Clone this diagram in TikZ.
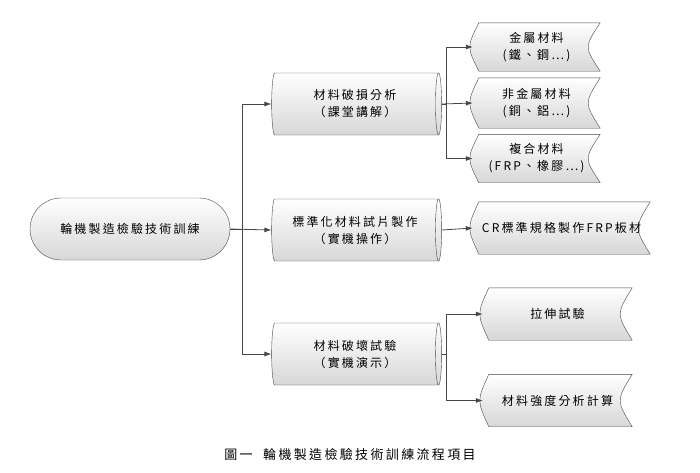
\documentclass[tikz,border=0pt]{standalone}
\usepackage{fontspec}
\setmainfont{Noto Sans CJK TC}[LetterSpace=18]
\usetikzlibrary{arrows.meta,backgrounds,shapes.geometric,calc}
\definecolor{edge-grey}{RGB}{70,70,70}
\definecolor{shade-grey}{RGB}{215,215,215}

\begin{document}
\begin{tikzpicture}[x=1pt,y=-1pt,
        every node/.style={font=\fontsize{12}{17}\selectfont,align=center,inner sep=0pt},
        start/.style={draw=edge-grey,rounded corners=31pt,minimum width=200pt,minimum height=62pt,
            top color=white,bottom color=shade-grey},
        cyl/.style={shape=cylinder,shape border rotate=0,aspect=0.22,draw=edge-grey,
            minimum width=62pt,minimum height=170pt,top color=white,bottom color=shade-grey},
        store/.style={minimum height=#1},
        arr/.style={draw=edge-grey,thick,-{Latex[length=7pt,width=5pt]}}
    ]
    \useasboundingbox (0,0) rectangle (700,472);
    % start
    \node[start] (train) at (130,229) {輪機製造檢驗技術訓練};
    % middle column
    \node[cyl] (anal) at (355,104) {材料破損分析\\（課堂講解）};
    \node[cyl] (std)  at (355,230) {標準化材料試片製作\\（實機操作）};
    \node[cyl] (test) at (355,354) {材料破壞試驗\\（實機演示）};
    % right column
    \node[store=48pt,minimum width=127pt] (metal)    at (536.5,47)    {金屬材料\\(鐵、鋼…)};
    \node[store=50pt,minimum width=127pt] (nonmetal) at (536.5,103)   {非金屬材料\\(銅、鋁…)};
    \node[store=48pt,minimum width=127pt] (comp)     at (536.5,158.5) {複合材料\\(FRP、橡膠…)};
    \node[store=52pt,minimum width=177pt] (cr)       at (561.5,228)   {CR標準規格製作FRP板材};
    \node[store=52pt,minimum width=149pt] (tensile)  at (557.5,314)   {拉伸試驗};
    \node[store=52pt,minimum width=149pt] (strength) at (557.5,400.5) {材料強度分析計算};
    \begin{scope}[on background layer]
        \foreach \n in {metal,nonmetal,comp,cr,tensile,strength}
            \draw[edge-grey,top color=white,bottom color=shade-grey]
                ([xshift=6pt]\n.north west) .. controls ([xshift=-6pt]\n.west) .. ([xshift=6pt]\n.south west)
                -- (\n.south east) .. controls ([xshift=-16pt]\n.east) .. (\n.north east) -- cycle;
    \end{scope}
    % connectors
    \draw[arr] (train.east) -- (std.west);
    \draw[arr] (train.east) -- ++(12,0) |- (anal.west);
    \draw[arr] (train.east) -- ++(12,0) |- (test.west);
    \draw[arr] (anal.east) -- ++(5,0) |- (metal.west);
    \draw[arr] (anal.east) -- (nonmetal.west);
    \draw[arr] (anal.east) -- ++(5,0) |- (comp.west);
    \draw[arr] (std.east) -- (cr.west);
    \draw[arr] (test.east) -- ++(5,0) |- (tensile.west);
    \draw[arr] (test.east) -- ++(5,0) |- (strength.west);
    % caption
    \node[font=\fontsize{13}{15}\selectfont] (caption) at (350,455) {圖一\ \ 輪機製造檢驗技術訓練流程項目};
\end{tikzpicture}
\end{document}
